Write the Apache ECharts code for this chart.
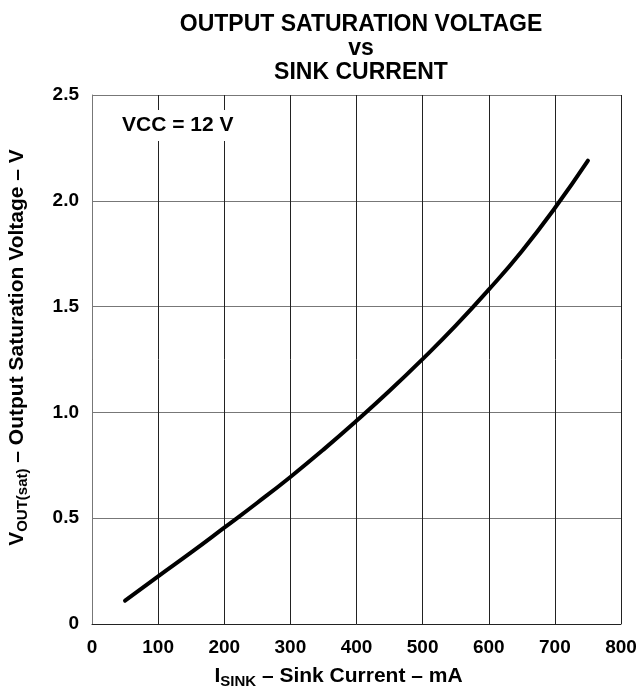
<!DOCTYPE html>
<html>
<head>
<meta charset="utf-8">
<script src="https://cdn.jsdelivr.net/npm/echarts@6/dist/echarts.min.js"></script>
<style>
  html, body { margin: 0; padding: 0; background: #fff; }
  #chart { width: 641px; height: 690px; }
</style>
</head>
<body>
<div id="chart"></div>
<script>
// sink current (mA) and output saturation voltage (V)
var current = [50, 100, 150, 200, 250, 300, 350, 400, 450, 500, 550, 600, 650, 700, 750];
var voltage = [0.11, 0.225, 0.338, 0.455, 0.573, 0.695, 0.824, 0.96, 1.102, 1.252, 1.41, 1.58, 1.762, 1.966, 2.19];
var yTickLabels = ["0", "0.5", "1.0", "1.5", "2.0", "2.5"];

var FONT = "'Liberation Sans', Arial, Helvetica, sans-serif";

window.onload = function () {
  var myChart = echarts.init(document.getElementById("chart"), null, { renderer: "canvas" });

  var points = [];
  for (var i = 0; i < current.length; i++) {
    points.push([current[i], voltage[i]]);
  }

  var option = {
    backgroundColor: "#fff",
    animation: false,
    title: [
      {
        text: "OUTPUT SATURATION VOLTAGE\nvs\nSINK CURRENT",
        left: 356,
        top: 8,
        textAlign: "center",
        textStyle: {
          fontFamily: FONT,
          fontWeight: "bold",
          fontSize: 23,
          lineHeight: 24,
          color: "#000",
        },
      },
      {
        // condition label, white box hides the grid behind it
        text: "VCC = 12 V",
        left: 116,
        top: 110,
        padding: [5, 6, 5, 6],
        backgroundColor: "#fff",
        textStyle: {
          fontFamily: FONT,
          fontWeight: "bold",
          fontSize: 21,
          color: "#000",
        },
      },
    ],
    grid: {
      left: 92,
      right: 20,
      top: 95,
      bottom: 66,
      containLabel: false,
      outerBoundsMode: "none",
    },
    xAxis: {
      type: "value",
      min: 0,
      max: 800,
      interval: 100,
      name: "{i|I}{sub|SINK}{n| – Sink Current – mA}",
      nameLocation: "middle",
      nameGap: 40,
      nameTextStyle: {
        padding: [0, 36, 0, 0],
        rich: {
          i: { fontFamily: FONT, fontWeight: "bold", fontSize: 21, color: "#000" },
          sub: { fontFamily: FONT, fontWeight: "bold", fontSize: 15, color: "#000", padding: [10, 0, 0, 0] },
          n: { fontFamily: FONT, fontWeight: "bold", fontSize: 21, color: "#000" },
        },
      },
      axisLine: { show: true, lineStyle: { color: "#222", width: 1 } },
      axisTick: { show: false },
      axisLabel: {
        margin: 14,
        fontFamily: FONT,
        fontWeight: "bold",
        fontSize: 19,
        color: "#000",
      },
      splitLine: { show: true, lineStyle: { color: "#222", width: 1 } },
    },
    yAxis: {
      type: "value",
      min: 0,
      max: 2.5,
      interval: 0.5,
      name: "{v|V}{sub|OUT(sat)}{n| – Output Saturation Voltage – V}",
      nameLocation: "middle",
      nameGap: 62,
      nameTextStyle: {
        padding: [0, 0, 0, 24],
        rich: {
          v: { fontFamily: FONT, fontWeight: "bold", fontSize: 21, color: "#000" },
          sub: { fontFamily: FONT, fontWeight: "bold", fontSize: 15, color: "#000", padding: [10, 0, 0, 0] },
          n: { fontFamily: FONT, fontWeight: "bold", fontSize: 21, color: "#000" },
        },
      },
      axisLine: { show: true, lineStyle: { color: "#777", width: 1 } },
      axisTick: { show: false },
      axisLabel: {
        margin: 13,
        fontFamily: FONT,
        fontWeight: "bold",
        fontSize: 19,
        color: "#000",
        formatter: function (value, index) {
          return yTickLabels[index];
        },
      },
      splitLine: { show: true, lineStyle: { color: "#777", width: 1 } },
    },
    series: [
      {
        type: "line",
        data: points,
        smooth: true,
        showSymbol: false,
        lineStyle: { color: "#000", width: 4, cap: "round" },
      },
    ],
  };
  myChart.setOption(option);
};
</script>
</body>
</html>
